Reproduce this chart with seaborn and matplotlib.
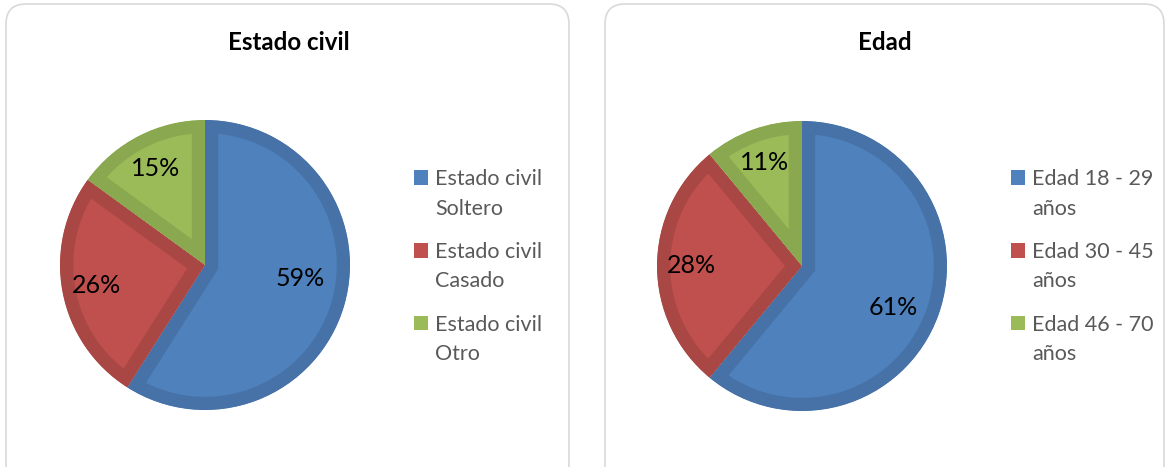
import numpy as np
import seaborn as sns
from matplotlib import pyplot as plt
from matplotlib.patches import FancyBboxPatch, Patch, Rectangle
from matplotlib.legend_handler import HandlerPatch

# data
civil_labels = ['Estado civil\nSoltero', 'Estado civil\nCasado', 'Estado civil\nOtro']
civil_values = [59, 26, 15]
edad_labels = ['Edad 18 - 29\naños', 'Edad 30 - 45\naños', 'Edad 46 - 70\naños']
edad_values = [61, 28, 11]

fill_colors = ['#4F81BD', '#C0504D', '#9BBB59']
edge_colors = ['#4672A8', '#A94744', '#8AA84F']

sns.set_theme(style='white')
plt.rcParams['font.family'] = ['Lato', 'DejaVu Sans']

W, H = 1171, 467
fig = plt.figure(figsize=(W / 100, H / 100), dpi=100)

# background axes in pixel units for the rounded frames
bg = fig.add_axes([0, 0, 1, 1])
bg.set_xlim(0, W)
bg.set_ylim(H, 0)
bg.axis('off')
for x0, x1 in [(6, 569), (605, 1164)]:
    bg.add_patch(FancyBboxPatch((x0 + 20, 24), x1 - x0 - 40, 480,
                                boxstyle='round,pad=20', facecolor='white',
                                edgecolor='#D9D9D9', linewidth=1.2))


class FirstLineSquare(HandlerPatch):
    # put the colour square next to the first line of a two-line label
    def create_artists(self, legend, orig_handle, xdescent, ydescent, width, height, fontsize, trans):
        p = Rectangle((-xdescent, -ydescent + 12), width, height,
                      facecolor=orig_handle.get_facecolor(), edgecolor='none', transform=trans)
        return [p]


def px_axes(cx, cy, r):
    return fig.add_axes([(cx - r) / W, (H - cy - r) / H, 2 * r / W, 2 * r / H])


def draw_pie(cx, cy, values, labels, title, title_x, leg_x, dists):
    ax = px_axes(cx, cy, 145)
    wedges, _, autotexts = ax.pie(values, colors=fill_colors, startangle=90,
                                  counterclock=False, autopct='%1.0f%%',
                                  textprops={'fontsize': 18, 'color': 'black'})
    for w, ec, t, d in zip(wedges, edge_colors, autotexts, dists):
        w.set_edgecolor(ec)
        w.set_linewidth(19)
        w.set_clip_path(w)
        w.set_clip_on(True)
        ang = np.deg2rad((w.theta1 + w.theta2) / 2) + np.deg2rad(d[1])
        t.set_position((d[0] * np.cos(ang), d[0] * np.sin(ang)))
    ax.set_xlim(-1.0, 1.0)
    ax.set_ylim(-1.0, 1.0)
    ax.set_aspect('equal')
    fig.text(title_x / W, 1 - 42 / H, title, ha='center', va='center',
             fontsize=17.4, fontweight='bold', color='black')
    handles = [Patch(facecolor=c, edgecolor='none') for c in fill_colors]
    leg = fig.legend(handles, labels, loc='upper left',
                     bbox_to_anchor=(leg_x / W, 1 - 169 / H),
                     bbox_transform=fig.transFigure, frameon=False,
                     fontsize=15.5, borderpad=0, borderaxespad=0,
                     handlelength=0.65, handleheight=0.65, handletextpad=0.33,
                     labelspacing=1.08, handler_map={Patch: FirstLineSquare()})
    for t in leg.get_texts():
        t.set_color('#595959')
        t.set_linespacing(1.6)


draw_pie(205, 265, civil_values, civil_labels, 'Estado civil', 289, 414,
         [(0.66, 8), (0.76, 0), (0.75, 0)])
draw_pie(802, 266, edad_values, edad_labels, 'Edad', 885, 1011,
         [(0.69, -5), (0.76, 0), (0.76, 0)])

fig.savefig('out.png', dpi=100)
